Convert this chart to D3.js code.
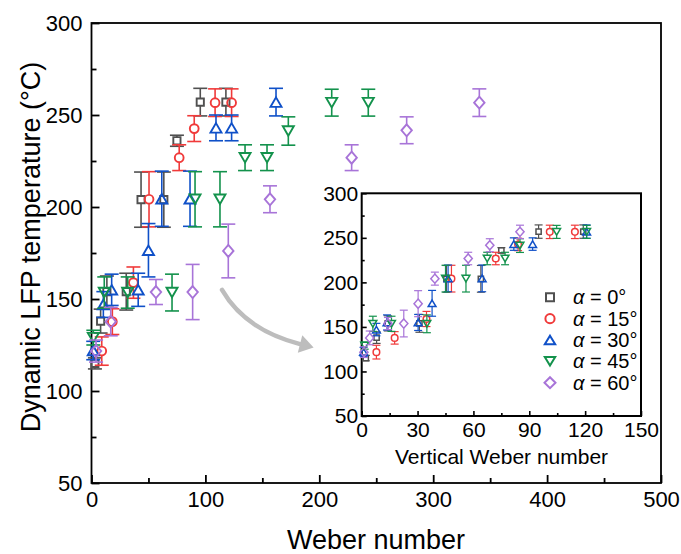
<!DOCTYPE html>
<html>
<head>
<meta charset="utf-8"/>
<script src="https://d3js.org/d3.v7.min.js"></script>
<style>
  body { margin: 0; background: #fff; }
  text { font-family: "Liberation Sans", Arial, sans-serif; fill: #000; }
</style>
</head>
<body>
<div id="chart"></div>
<script>
// ---- data ----
var labels = ["0°", "15°", "30°", "45°", "60°"];
var colors = ["#505050", "#f03a3a", "#0f50c8", "#13924c", "#a874d8"];
var shapes = ["square", "circle", "triup", "tridown", "diamond"];

// alpha = 0
var we0  = [3, 8, 13.5, 30.5, 43.5, 63.5, 75, 95.5, 118];
var vwe0 = [2.2, 8, 14, 31, 45.5, 64, 75, 95, 119];
var t0   = [115, 138, 154, 154, 204, 204, 236, 257, 257];
var e0   = [3, 6.5, 8.5, 10, 15, 15, 3, 7.5, 7.5];
// alpha = 15
var we15  = [9, 18.3, 36.8, 50.5, 77, 90.2, 108.5, 123];
var vwe15 = [7.9, 17.7, 34.8, 48.2, 72, 84, 101, 114.5];
var t15   = [121.7, 137.7, 158.9, 204.2, 226.8, 242.6, 256.7, 256.7];
var e15   = [7.7, 7, 8.5, 15, 7, 7, 7.5, 7.5];
// alpha = 30
var we30  = [1.5, 10.4, 17.7, 41, 50, 61.7, 86.5, 109.3, 123, 162];
var vwe30 = [1, 7.9, 13.6, 30.3, 37.8, 46.4, 64.7, 81.7, 91.8, 120.8];
var t30   = [122, 147, 155, 155, 176.5, 204.5, 204.5, 243, 243, 257];
var e30   = [5, 7, 8.5, 9, 14.5, 15, 15, 7, 7, 7.5];
// alpha = 45
var we45  = [1.6, 11.2, 31.8, 70.7, 90.9, 112.8, 134.8, 154.1, 172.8, 210.9, 243];
var vwe45 = [1.6, 6, 16, 35, 45, 56, 67.4, 77, 85, 104.7, 120.8];
var t45   = [129, 153.5, 153.5, 153.5, 204.2, 204.2, 226.8, 226.8, 241.3, 256.7, 256.7];
var e45   = [4, 8.5, 8.5, 10, 15, 15, 7, 7, 7.7, 7.3, 7.3];
// alpha = 60
var we60  = [4, 16.9, 56.6, 88.8, 120.1, 156.7, 228.4, 276.7, 340.5];
var vwe60 = [1.2, 4.3, 14.1, 22.6, 30.3, 39.3, 57.2, 68.8, 85];
var t60   = [121.7, 137.7, 153.8, 153.8, 176.1, 204.2, 226.8, 241.7, 256.7];
var e60   = [6, 7.7, 6.8, 15, 14.6, 7.3, 7, 7.3, 7.5];

var weAll  = [we0, we15, we30, we45, we60];
var vweAll = [vwe0, vwe15, vwe30, vwe45, vwe60];
var tAll   = [t0, t15, t30, t45, t60];
var eAll   = [e0, e15, e30, e45, e60];

var xTicks = [0, 100, 200, 300, 400, 500];
var xMinor = [50, 150, 250, 350, 450];
var yTicks = [50, 100, 150, 200, 250, 300];
var yMinor = [75, 125, 175, 225, 275];
var xiTicks = [0, 30, 60, 90, 120, 150];
var xiMinor = [15, 45, 75, 105, 135];

// gray arrow, in main-plot data units (start, control, end)
var arrowPts = [[114.6, 154.9], [134.8, 133.2], [183.1, 125.5]];

// ---- setup ----
var svg = d3.select("#chart").append("svg")
    .attr("width", 681).attr("height", 554);

var x = d3.scaleLinear().domain([0, 500]).range([91.5, 661]);
var y = d3.scaleLinear().domain([50, 300]).range([483, 23]);
var xi = d3.scaleLinear().domain([0, 150]).range([361.7, 641]);
var yi = d3.scaleLinear().domain([50, 300]).range([416, 193.3]);

// marker path, sz = {sq, c, tw, th, dx, dy}
function markerPath(shape, s) {
  if (shape == "square") return "M" + (-s.sq) + "," + (-s.sq) + "h" + 2*s.sq + "v" + 2*s.sq + "h" + (-2*s.sq) + "Z";
  if (shape == "circle") return "M" + (-s.c) + ",0a" + s.c + "," + s.c + " 0 1,0 " + 2*s.c + ",0a" + s.c + "," + s.c + " 0 1,0 " + (-2*s.c) + ",0Z";
  if (shape == "triup") return "M0," + (-s.th/2) + "L" + s.tw + "," + (s.th/2) + "L" + (-s.tw) + "," + (s.th/2) + "Z";
  if (shape == "tridown") return "M0," + (s.th/2) + "L" + s.tw + "," + (-s.th/2) + "L" + (-s.tw) + "," + (-s.th/2) + "Z";
  return "M0," + (-s.dy) + "L" + s.dx + ",0L0," + s.dy + "L" + (-s.dx) + ",0Z";
}
function markerHalf(shape, s) {
  if (shape == "square") return s.sq;
  if (shape == "circle") return s.c;
  if (shape == "diamond") return s.dy;
  return s.th/2;
}

function drawAxes(g, xs, ys, xt, xm, yt, ym, major, minor, padX, padY, sw, fs) {
  var bottom = ys.range()[0], left = xs.range()[0];
  var ax = g.append("g").attr("transform", "translate(0," + bottom + ")")
    .call(d3.axisBottom(xs).tickValues(xt).tickSize(-major).tickSizeOuter(0).tickPadding(padX).tickFormat(d3.format("d")));
  var axm = g.append("g").attr("transform", "translate(0," + bottom + ")")
    .call(d3.axisBottom(xs).tickValues(xm).tickSize(-minor).tickFormat(""));
  var ay = g.append("g").attr("transform", "translate(" + left + ",0)")
    .call(d3.axisLeft(ys).tickValues(yt).tickSize(-major).tickSizeOuter(0).tickPadding(padY));
  var aym = g.append("g").attr("transform", "translate(" + left + ",0)")
    .call(d3.axisLeft(ys).tickValues(ym).tickSize(-minor).tickFormat(""));
  [ax, axm, ay, aym].forEach(function(a) {
    a.select(".domain").remove();
    a.selectAll(".tick line").attr("stroke", "#000").attr("stroke-width", sw);
    a.selectAll("text").attr("font-size", fs).attr("fill", "#000")
      .style("font-family", "'Liberation Sans', Arial, sans-serif");
  });
}

function drawSeries(g, xs, ys, xsArr, sz, cap, sw) {
  for (var k = 0; k < 5; k++) {
    var pts = xsArr[k].map(function(v, i) { return {x: v, t: tAll[k][i], e: eAll[k][i]}; });
    var half = markerHalf(shapes[k], sz);
    var sg = g.append("g").attr("stroke", colors[k]).attr("fill", "none");
    pts.forEach(function(p) {
      var px = xs(p.x), py = ys(p.t), top = ys(p.t + p.e), bot = ys(p.t - p.e);
      if (top < py - half) {
        sg.append("line").attr("x1", px).attr("x2", px).attr("y1", top).attr("y2", py - half).attr("stroke-width", sw);
      }
      if (bot > py + half) {
        sg.append("line").attr("x1", px).attr("x2", px).attr("y1", py + half).attr("y2", bot).attr("stroke-width", sw);
      }
      sg.append("line").attr("x1", px - cap).attr("x2", px + cap).attr("y1", top).attr("y2", top).attr("stroke-width", sw);
      sg.append("line").attr("x1", px - cap).attr("x2", px + cap).attr("y1", bot).attr("y2", bot).attr("stroke-width", sw);
      sg.append("path").attr("d", markerPath(shapes[k], sz))
        .attr("transform", "translate(" + px + "," + py + ")")
        .attr("stroke-width", sw + 0.3);
    });
  }
}

// ---- main plot ----
var main = svg.append("g");
drawAxes(main, x, y, xTicks, xMinor, yTicks, yMinor, 8, 5, 8, 9, 1.8, 22);
main.append("rect").attr("x", 91.5).attr("y", 23).attr("width", 661 - 91.5).attr("height", 483 - 23)
  .attr("fill", "none").attr("stroke", "#000").attr("stroke-width", 1.8);

drawSeries(main, x, y, weAll, {sq: 3.6, c: 4.4, tw: 5.5, th: 9.5, dx: 5.2, dy: 6}, 7, 1.6);

main.append("text").attr("x", 376).attr("y", 549).attr("text-anchor", "middle")
  .attr("font-size", 27).text("Weber number");
main.append("text").attr("transform", "translate(40,247) rotate(-90)").attr("text-anchor", "middle")
  .attr("font-size", 27).text("Dynamic LFP temperature (°C)");

// arrow
var a0 = [x(arrowPts[0][0]), y(arrowPts[0][1])],
    a1 = [x(arrowPts[1][0]), y(arrowPts[1][1])],
    a2 = [x(arrowPts[2][0]), y(arrowPts[2][1])];
main.append("path")
  .attr("d", "M" + a0 + "Q" + a1 + " " + a2)
  .attr("fill", "none").attr("stroke", "#bdbdbd").attr("stroke-width", 4.5).attr("stroke-linecap", "round");
var dxA = a2[0] - a1[0], dyA = a2[1] - a1[1], L = Math.sqrt(dxA*dxA + dyA*dyA);
var ux = dxA / L, uy = dyA / L;
var tip = [a2[0] + ux*14, a2[1] + uy*14];
main.append("path")
  .attr("d", "M" + tip + "L" + [a2[0] - uy*9, a2[1] + ux*9] + "L" + [a2[0] + uy*9, a2[1] - ux*9] + "Z")
  .attr("fill", "#bdbdbd");

// ---- inset ----
var inset = svg.append("g");
inset.append("rect").attr("x", 361.7).attr("y", 193.3).attr("width", 641 - 361.7).attr("height", 416 - 193.3)
  .attr("fill", "#fff");
drawAxes(inset, xi, yi, xiTicks, xiMinor, yTicks, yMinor, 5, 3, 6.5, 3.5, 1.6, 21);
inset.append("rect").attr("x", 361.7).attr("y", 193.3).attr("width", 641 - 361.7).attr("height", 416 - 193.3)
  .attr("fill", "none").attr("stroke", "#000").attr("stroke-width", 2);

drawSeries(inset, xi, yi, vweAll, {sq: 2.6, c: 3.3, tw: 3.9, th: 6.6, dx: 4.1, dy: 4.6}, 4, 1.2);

inset.append("text").attr("x", 501.5).attr("y", 464).attr("text-anchor", "middle")
  .attr("font-size", 21).text("Vertical Weber number");

// legend
var legSz = {sq: 4, c: 4.6, tw: 5.2, th: 8.5, dx: 5.5, dy: 5.5};
for (var k = 0; k < 5; k++) {
  var ly = 297.3 + k * 21.35;
  inset.append("path").attr("d", markerPath(shapes[k], legSz))
    .attr("transform", "translate(550," + ly + ")")
    .attr("fill", "none").attr("stroke", colors[k]).attr("stroke-width", 2);
  var tx = inset.append("text").attr("x", 573).attr("y", ly + 7).attr("font-size", 20);
  tx.append("tspan").attr("font-style", "italic").text("α");
  tx.append("tspan").text(" = " + labels[k]);
}
</script>
</body>
</html>
